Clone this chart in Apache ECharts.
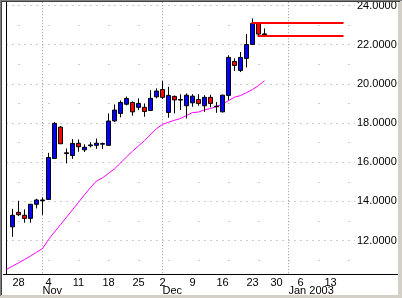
<!DOCTYPE html>
<html><head><meta charset="utf-8">
<script src="https://cdn.jsdelivr.net/npm/echarts@6/dist/echarts.min.js"></script>
<style>html,body{margin:0;padding:0;background:#fff}#c{width:402px;height:298px}</style>
</head><body><div id="c"></div>
<script>
// Trading days shown on the axis (Oct 24 2002 .. Jan 17 2003)
const tradingDays = [
 '2002-10-24','2002-10-25','2002-10-28','2002-10-29','2002-10-30','2002-10-31',
 '2002-11-01','2002-11-04','2002-11-05','2002-11-06','2002-11-07','2002-11-08',
 '2002-11-11','2002-11-12','2002-11-13','2002-11-14','2002-11-15',
 '2002-11-18','2002-11-19','2002-11-20','2002-11-21','2002-11-22',
 '2002-11-25','2002-11-26','2002-11-27','2002-11-29',
 '2002-12-02','2002-12-03','2002-12-04','2002-12-05','2002-12-06',
 '2002-12-09','2002-12-10','2002-12-11','2002-12-12','2002-12-13',
 '2002-12-16','2002-12-17','2002-12-18','2002-12-19','2002-12-20',
 '2002-12-23','2002-12-24','2002-12-26','2002-12-27','2002-12-30','2002-12-31',
 '2003-01-02','2003-01-03','2003-01-06','2003-01-07','2003-01-08','2003-01-09','2003-01-10',
 '2003-01-13','2003-01-14','2003-01-15','2003-01-16','2003-01-17'
];
// Candles from Oct 25 2002 to Dec 26 2002
const firstCandleDay = '2002-10-25';
const opens  = [12.70,13.44,13.29,13.13,13.85,14.03,14.10,16.19,17.79,16.48,16.34,16.96,16.63,16.84,16.86,16.92,16.86,18.11,18.49,18.96,19.05,18.80,18.80,18.64,19.34,19.71,18.54,19.36,19.20,18.88,19.03,19.20,18.88,19.31,18.86,18.57,19.41,21.14,20.68,21.30,22.01,23.08,22.55];
const closes = [13.29,13.32,13.13,13.85,14.07,14.07,16.24,17.98,16.94,16.44,16.96,16.79,16.76,16.88,16.97,16.95,18.10,18.66,19.05,19.25,18.57,19.00,18.59,19.26,19.63,19.31,19.41,19.18,19.17,19.42,19.37,19.00,19.31,19.00,18.83,19.42,21.35,20.94,21.35,22.01,23.08,22.54,22.51];
const lows   = [12.19,13.25,12.91,12.91,13.64,13.31,14.08,16.17,16.94,15.94,16.17,16.53,16.52,16.76,16.68,16.68,16.84,18.05,18.29,18.90,18.37,18.66,18.32,18.62,19.26,19.23,18.27,18.49,18.66,18.23,18.83,18.88,18.57,18.80,18.52,18.54,19.16,20.66,20.60,20.84,22.00,22.43,22.47];
const highs  = [13.62,14.03,13.59,13.87,14.13,14.20,16.48,18.05,17.84,16.70,17.18,17.16,16.91,17.02,17.21,17.00,18.49,18.95,19.15,19.35,19.10,19.26,19.00,19.68,19.77,20.15,19.85,19.40,19.47,19.51,19.47,19.47,19.42,19.44,19.07,19.45,21.46,21.30,21.63,22.54,23.34,23.10,22.83];
// Moving average from Oct 24 2002 to Dec 26 2002
const firstMaDay = '2002-10-24';
const movingAvg = [10.53,10.69,10.86,11.03,11.21,11.40,11.59,12.05,12.44,12.81,13.19,13.57,13.95,14.34,14.70,15.04,15.20,15.43,15.66,15.96,16.27,16.56,16.83,17.10,17.41,17.71,17.93,18.04,18.14,18.23,18.38,18.53,18.56,18.67,18.74,18.84,18.97,19.14,19.32,19.40,19.55,19.71,19.91,20.16];
// Horizontal level lines
const levelValues = [23.10, 22.45];
const levelStarts = ['2002-12-23', '2002-12-24'];
const levelEnd = '2003-01-15';
// Axis ticks
const yLabelTicks = [12, 14, 16, 18, 20, 22, 24];
const yMinorTicks = [11, 13, 15, 17, 19, 21, 23];
const monthNames = ['Jan','Feb','Mar','Apr','May','Jun','Jul','Aug','Sep','Oct','Nov','Dec'];

const idx = d => tradingDays.indexOf(d);
const parse = d => { const p = d.split('-').map(Number); return new Date(p[0], p[1]-1, p[2]); };

const c0 = idx(firstCandleDay);
const candleData = opens.map((o, i) => [c0 + i, o, closes[i], lows[i], highs[i]]);
const m0 = idx(firstMaDay);
const maData = movingAvg.map((v, i) => [m0 + i, v]);

const mondayIdx = [];
const monthIdx = [];
tradingDays.forEach((d, i) => {
  const dt = parse(d);
  if (dt.getDay() === 1) mondayIdx.push(i);
  if (i > 0 && parse(tradingDays[i-1]).getMonth() !== dt.getMonth()) monthIdx.push(i);
});

const FONT = '"Liberation Sans", Arial, sans-serif';
const xMin = -0.5, xMax = 58.083;
const yMin = 10.291, yMax = 24.168;

const chart = echarts.init(document.getElementById('c'), null, {renderer: 'canvas'});
chart.setOption({
  animation: false,
  backgroundColor: '#ffffff',
  grid: {left: 3.5, right: 47, top: 2, bottom: 24, containLabel: false},
  xAxis: [
    {
      type: 'value', min: xMin, max: xMax, position: 'bottom', offset: 0,
      axisLine: {show: true, lineStyle: {color: '#000', width: 1}},
      axisTick: {show: false, customValues: mondayIdx},
      axisLabel: {
        customValues: mondayIdx, margin: 3, color: '#000', fontSize: 11, fontFamily: FONT,
        formatter: v => String(parse(tradingDays[Math.round(v)]).getDate())
      },
      splitLine: {show: false}
    },
    {
      type: 'value', min: xMin, max: xMax, position: 'bottom', offset: 0,
      axisLine: {show: false},
      axisTick: {show: false, customValues: monthIdx},
      axisLabel: {
        customValues: monthIdx, margin: 11, align: 'left', color: '#000', fontSize: 11, fontFamily: FONT,
        formatter: v => {
          const dt = parse(tradingDays[Math.round(v)]);
          return dt.getMonth() === 0 ? monthNames[0] + ' ' + dt.getFullYear() : monthNames[dt.getMonth()];
        }
      },
      splitLine: {show: true, lineStyle: {color: '#9a9a9a', width: 1, type: [1, 2]}}
    }
  ],
  yAxis: [
    {
      type: 'value', position: 'right', min: yMin, max: yMax,
      axisLine: {show: true, lineStyle: {color: '#000', width: 1}},
      axisTick: {show: false, customValues: yLabelTicks},
      axisLabel: {customValues: yLabelTicks, margin: 2, color: '#000', fontSize: 11, fontFamily: FONT,
        formatter: v => Number(v).toFixed(4)},
      splitLine: {show: true, lineStyle: {color: '#9a9a9a', width: 1, type: [1, 5], dashOffset: 3}}
    },
    {
      type: 'value', position: 'right', min: yMin, max: yMax,
      axisLine: {show: false},
      axisTick: {show: false, customValues: yMinorTicks},
      axisLabel: {show: false},
      splitLine: {show: true, lineStyle: {color: '#9a9a9a', width: 1, type: [1, 29], dashOffset: 15}}
    }
  ],
  series: [
    {
      type: 'line', xAxisIndex: 0, yAxisIndex: 0, data: maData,
      symbol: 'none', smooth: false,
      lineStyle: {color: '#ff00ff', width: 1}, z: 2
    },
    {
      type: 'candlestick', xAxisIndex: 0, yAxisIndex: 0,
      dimensions: ['x', 'open', 'close', 'lowest', 'highest'],
      encode: {x: 'x', y: ['open', 'close', 'lowest', 'highest']},
      data: candleData,
      barWidth: 4,
      itemStyle: {color: '#0000ff', color0: '#ff0000', borderColor: '#000', borderColor0: '#000', borderColorDoji: '#000', borderWidth: 1},
      z: 3,
      markLine: {
        silent: true, symbol: ['none', 'none'], label: {show: false}, animation: false,
        lineStyle: {color: '#ff0000', width: 2, type: 'solid', cap: 'square'},
        data: levelValues.map((v, i) => [{coord: [idx(levelStarts[i]), v]}, {coord: [idx(levelEnd), v]}])
      }
    }
  ],
  graphic: [
    {type: 'line', shape: {x1: 355, y1: 274.5, x2: 398, y2: 274.5}, style: {stroke: '#000', lineWidth: 1}, z: 10},
    {type: 'rect', shape: {x: 0, y: 295, width: 402, height: 3}, style: {fill: '#d4d0c8'}, z: 20},
    {type: 'rect', shape: {x: 398, y: 0, width: 4, height: 298}, style: {fill: '#d4d0c8'}, z: 20},
    {type: 'rect', shape: {x: 0, y: 0, width: 402, height: 1}, style: {fill: '#808080'}, z: 21},
    {type: 'rect', shape: {x: 0, y: 1, width: 400, height: 1}, style: {fill: '#404040'}, z: 21},
    {type: 'rect', shape: {x: 0, y: 0, width: 1, height: 296}, style: {fill: '#808080'}, z: 21},
    {type: 'rect', shape: {x: 1, y: 1, width: 1, height: 294}, style: {fill: '#404040'}, z: 21}
  ]
});
</script>
</body></html>
